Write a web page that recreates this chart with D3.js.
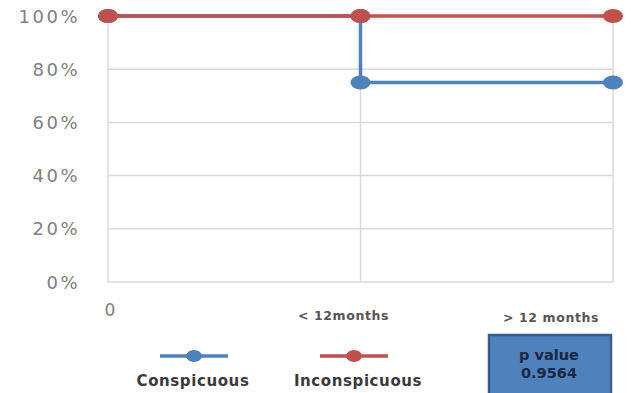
<!DOCTYPE html>
<html>
<head>
<meta charset="utf-8">
<script src="https://cdn.jsdelivr.net/npm/d3@7"></script>
<style>
  body { margin: 0; background: #fff; }
  svg { display: block; }
</style>
</head>
<body>
<svg></svg>
<script>
const categories = ["0", "< 12months", "> 12 months"];
const yTicks = [0, 20, 40, 60, 80, 100];
// step points (category index, percent)
const conspicuous = [[0, 100], [1, 100], [1, 75], [2, 75]];
const conspicuousMarkers = [[0, 100], [1, 100], [1, 75], [2, 75]];
const inconspicuous = [[0, 100], [1, 100], [2, 100]];
const legendNames = ["Conspicuous", "Inconspicuous"];
const pLabel = ["p value", "0.9564"];

const width = 631, height = 393;
const svg = d3.select("svg").attr("width", width).attr("height", height);

const x = d3.scaleLinear().domain([0, 2]).range([108, 613]);
const y = d3.scaleLinear().domain([0, 100]).range([282, 16]);

const blue = "#4f81bd", red = "#c0504d", grid = "#d9d9d9";
const font = "Verdana, DejaVu Sans, sans-serif";

// horizontal gridlines
svg.append("g").selectAll("line")
    .data(yTicks).enter().append("line")
    .attr("x1", x(0)).attr("x2", x(2))
    .attr("y1", d => y(d)).attr("y2", d => y(d))
    .attr("stroke", grid).attr("stroke-width", 1.5);

// vertical gridlines
svg.append("g").selectAll("line")
    .data(categories).enter().append("line")
    .attr("x1", (d, i) => x(i)).attr("x2", (d, i) => x(i))
    .attr("y1", y(0)).attr("y2", y(100))
    .attr("stroke", grid).attr("stroke-width", 1.5);

// y tick labels
svg.append("g").selectAll("text")
    .data(yTicks).enter().append("text")
    .attr("x", 80).attr("y", d => y(d) + 6.5)
    .attr("text-anchor", "end")
    .attr("font-family", font)
    .attr("font-size", 18).attr("letter-spacing", 2.5)
    .attr("fill", "#808080")
    .text(d => d + "%");

// x tick labels
const xLabelStyle = [
    {dx: 2, dy: 34, size: 17, weight: "normal", fill: "#808080"},
    {dx: -17, dy: 38, size: 12.5, weight: "bold", fill: "#555"},
    {dx: -62, dy: 40, size: 12.5, weight: "bold", fill: "#555"}
];
svg.append("g").selectAll("text")
    .data(categories).enter().append("text")
    .attr("x", (d, i) => x(i) + xLabelStyle[i].dx)
    .attr("y", (d, i) => y(0) + xLabelStyle[i].dy)
    .attr("text-anchor", "middle")
    .attr("font-family", font)
    .attr("font-size", (d, i) => xLabelStyle[i].size)
    .attr("font-weight", (d, i) => xLabelStyle[i].weight)
    .attr("letter-spacing", (d, i) => i ? 0.6 : 0)
    .attr("fill", (d, i) => xLabelStyle[i].fill)
    .text(d => d);

const line = d3.line().x(d => x(d[0])).y(d => y(d[1]));

svg.append("path")
    .attr("d", line(conspicuous))
    .attr("fill", "none").attr("stroke", blue).attr("stroke-width", 3.5);
svg.append("g").selectAll("ellipse")
    .data(conspicuousMarkers).enter().append("ellipse")
    .attr("cx", d => x(d[0])).attr("cy", d => y(d[1]))
    .attr("rx", 10).attr("ry", 7).attr("fill", blue);

svg.append("path")
    .attr("d", line(inconspicuous))
    .attr("fill", "none").attr("stroke", red).attr("stroke-width", 3.5);
svg.append("g").selectAll("ellipse")
    .data(inconspicuous).enter().append("ellipse")
    .attr("cx", d => x(d[0])).attr("cy", d => y(d[1]))
    .attr("rx", 10).attr("ry", 7).attr("fill", red);

// legend
const legend = svg.append("g");
const legendItems = [
    {name: legendNames[0], color: blue, lx: 160, tx: 193},
    {name: legendNames[1], color: red, lx: 320, tx: 358}
];
legendItems.forEach(it => {
    legend.append("line")
        .attr("x1", it.lx).attr("x2", it.lx + 68)
        .attr("y1", 356).attr("y2", 356)
        .attr("stroke", it.color).attr("stroke-width", 3.5);
    legend.append("ellipse")
        .attr("cx", it.lx + 34).attr("cy", 356)
        .attr("rx", 8).attr("ry", 6).attr("fill", it.color);
    legend.append("text")
        .attr("x", it.tx).attr("y", 386)
        .attr("text-anchor", "middle")
        .attr("font-family", font)
        .attr("font-size", 15).attr("font-weight", "bold")
        .attr("letter-spacing", 0.6)
        .attr("fill", "#3a3a3a")
        .text(it.name);
});

// p value box
const box = svg.append("g");
box.append("rect")
    .attr("x", 489).attr("y", 335).attr("width", 122).attr("height", 62)
    .attr("fill", blue).attr("stroke", "#385d8a").attr("stroke-width", 2.5);
box.selectAll("text")
    .data(pLabel).enter().append("text")
    .attr("x", 549).attr("y", (d, i) => 360 + i * 18)
    .attr("text-anchor", "middle")
    .attr("font-family", font)
    .attr("font-size", 14.5).attr("font-weight", "bold")
    .attr("fill", "#1a2740")
    .text(d => d);
</script>
</body>
</html>
